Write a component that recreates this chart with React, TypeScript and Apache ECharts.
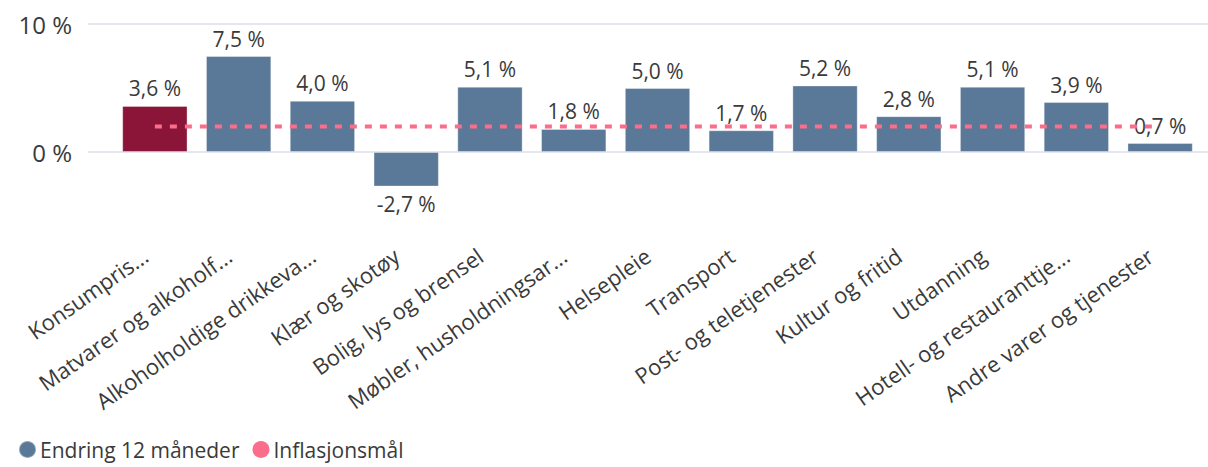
import React, { useEffect, useRef } from "react";
import * as echarts from "echarts";

const categories = [
  "Konsumpris...",
  "Matvarer og alkoholf...",
  "Alkoholholdige drikkeva...",
  "Klær og skotøy",
  "Bolig, lys og brensel",
  "Møbler, husholdningsar...",
  "Helsepleie",
  "Transport",
  "Post- og teletjenester",
  "Kultur og fritid",
  "Utdanning",
  "Hotell- og restauranttje...",
  "Andre varer og tjenester",
];
const endring12 = [3.6, 7.5, 4.0, -2.7, 5.1, 1.8, 5.0, 1.7, 5.2, 2.8, 5.1, 3.9, 0.7];
const inflasjonsmal = [2, 2, 2, 2, 2, 2, 2, 2, 2, 2, 2, 2, 2];
const highlightIndex = 0;
const yMin = -5;
const yMax = 10;
const yStep = 5;
const yShown = [0, 10];

const BLUE = "#5a7897";
const RED = "#8a1538";
const PINK = "#fb6d8a";
const TEXT = "#3a3a3a";
const FONT = "'Segoe UI', 'Open Sans', 'Noto Sans', sans-serif";

const fmt = (v: number) => v.toFixed(1).replace(".", ",") + " %";

export default function App() {
  const ref = useRef<HTMLDivElement>(null);
  useEffect(() => {
    document.body.style.margin = "0";
    const chart = echarts.init(ref.current!, undefined, { renderer: "svg" });
    chart.setOption({
      animation: false,
      textStyle: { fontFamily: FONT },
      legend: {
        left: 13,
        bottom: 2,
        itemWidth: 17,
        itemHeight: 17,
        itemGap: 13,
        icon: "circle",
        textStyle: { fontSize: 21, color: TEXT, fontFamily: FONT, padding: [0, 0, 0, -1] },
        data: [
          { name: "Endring 12 måneder", itemStyle: { color: BLUE } },
          { name: "Inflasjonsmål", itemStyle: { color: PINK } },
        ],
      },
      grid: [
        { left: 88, right: 0, top: 24, bottom: 251, containLabel: false },
        { left: 113, right: 6, top: 24, bottom: 251, containLabel: false },
      ],
      xAxis: [
        {
          type: "value",
          gridIndex: 0,
          min: 0,
          max: 1,
          show: false,
        },
        {
          type: "category",
          gridIndex: 1,
          data: categories,
          axisLine: { show: false },
          axisTick: { show: false },
          axisLabel: {
            rotate: 35,
            interval: 0,
            margin: 30,
            fontSize: 22,
            color: TEXT,
            fontFamily: FONT,
            padding: [0, 12, 0, 0],
          },
        },
      ],
      yAxis: [
        {
          type: "value",
          gridIndex: 0,
          min: yMin,
          max: yMax,
          interval: yStep,
          axisLine: { show: false },
          axisTick: { show: false },
          axisLabel: {
            margin: 16,
            fontSize: 24,
            color: TEXT,
            fontFamily: FONT,
            formatter: (v: number) => (yShown.includes(v) ? v + " %" : ""),
          },
          splitLine: {
            show: true,
            lineStyle: { color: ["rgba(0,0,0,0)", "#e4e8ee"], width: 2 },
          },
        },
        {
          type: "value",
          gridIndex: 1,
          min: yMin,
          max: yMax,
          interval: yStep,
          show: false,
          splitLine: { show: false },
        },
      ],
      series: [
        {
          name: "Endring 12 måneder",
          type: "bar",
          xAxisIndex: 1,
          yAxisIndex: 1,
          barCategoryGap: "22%",
          data: endring12.map((v, i) => ({
            value: v,
            itemStyle: { color: i === highlightIndex ? RED : BLUE },
            label: { position: v < 0 ? "bottom" : "top" },
          })),
          itemStyle: { borderColor: "rgba(255,255,255,0.35)", borderWidth: 1 },
          label: {
            show: true,
            distance: 7,
            fontSize: 21,
            color: TEXT,
            fontFamily: FONT,
            formatter: (p: any) => fmt(p.value),
          },
          z: 2,
        },
        {
          name: "Inflasjonsmål",
          type: "line",
          xAxisIndex: 1,
          yAxisIndex: 1,
          data: inflasjonsmal,
          symbol: "none",
          lineStyle: { color: PINK, width: 4, type: [7, 8] },
          itemStyle: { color: PINK },
          z: 3,
        },
      ],
    });
    return () => chart.dispose();
  }, []);
  return <div ref={ref} style={{ width: 1208, height: 467 }} />;
}
